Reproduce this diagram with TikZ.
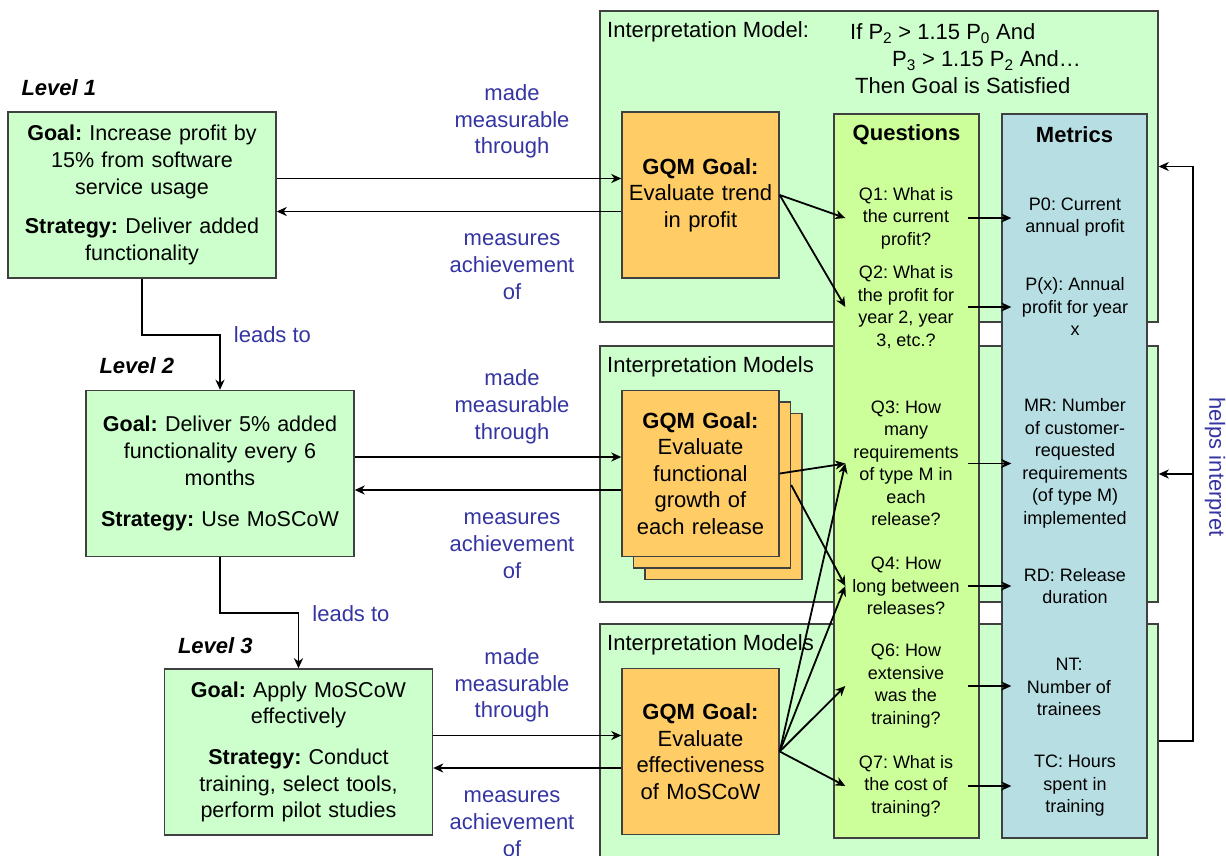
\documentclass[tikz,border=0pt]{standalone}
\usepackage{fontspec}
\setmainfont{Liberation Sans}
\usetikzlibrary{positioning,calc,arrows.meta}
\definecolor{paleg}{HTML}{CCFFCC}
\definecolor{limeg}{HTML}{CCFF99}
\definecolor{gqmor}{HTML}{FFCC66}
\definecolor{metbl}{HTML}{B7DEE3}
\definecolor{relblue}{HTML}{3434A2}

\begin{document}
\frenchspacing
\begin{tikzpicture}[x=1pt,y=-1pt,>={Stealth[length=10pt,width=9pt,inset=3pt]},
  levelbox/.style={draw=black!75, fill=paleg, line width=1.4pt, text width=250pt, inner xsep=9pt, minimum height=166pt, align=center, font=\fontsize{21.5}{26.7}\selectfont},
  gqmbox/.style={draw=black!75, fill=gqmor, line width=1.4pt, text width=145pt, inner xsep=6pt, minimum height=166pt, align=center, font=\fontsize{22}{26.5}\selectfont},
  modelbox/.style={draw=black!75, fill=paleg, line width=1.4pt, minimum width=558pt, inner sep=0pt},
  colbox/.style={draw=black!75, line width=1.4pt, minimum width=145pt, minimum height=724pt, inner sep=0pt},
  qtext/.style={align=center, inner sep=0pt, font=\fontsize{18}{22.5}\selectfont},
  headtxt/.style={inner sep=0pt, font=\fontsize{22}{27}\selectfont},
  lbl/.style={align=center, inner sep=0pt, text=relblue, font=\fontsize{22}{26.7}\selectfont},
  link/.style={->, line width=1.8pt}]
  \useasboundingbox (0,0) rectangle (1226,855);

  %Interpretation models
  \node[modelbox, minimum height=311pt](im1) at (879,166.5){};
  \node[modelbox, minimum height=256pt](im2) at (879,474){};
  \node[modelbox, minimum height=234pt](im3) at (879,741){};
  \node[headtxt, anchor=west](imt1) at (607,32){Interpretation Model:};
  \node[headtxt, anchor=west](imt2) at (607,367){Interpretation Models};
  \node[headtxt, anchor=west](imt3) at (607,645){Interpretation Models};
  \node[headtxt, anchor=west, align=left](rule) at (850,59){If P\textsubscript{2} > 1.15 P\textsubscript{0} And\\\hspace*{42pt}P\textsubscript{3} > 1.15 P\textsubscript{2} And…\\\hspace*{5pt}Then Goal is Satisfied};

  %Questions and metrics
  \node[colbox, fill=limeg](qs) at (906.5,476){};
  \node[colbox, fill=metbl](ms) at (1074.5,476){};
  \node[headtxt](qst) at (906.5,135){\bfseries Questions};
  \node[headtxt](mst) at (1074.5,135){\bfseries Metrics};
  \node[qtext](q1) at (906,218){Q1: What is\\the current\\profit?};
  \node[qtext](q2) at (906,307){Q2: What is\\the profit for\\year 2, year\\3, etc.?};
  \node[qtext](q3) at (906,463.5){Q3: How\\many\\requirements\\of type M in\\each\\release?};
  \node[qtext](q4) at (906,586){Q4: How\\long between\\releases?};
  \node[qtext](q6) at (906,686){Q6: How\\extensive\\was the\\training?};
  \node[qtext](q7) at (906,786){Q7: What is\\the cost of\\training?};
  \node[qtext](m1) at (1075,217){P0: Current\\annual profit};
  \node[qtext](m2) at (1075,306.5){P(x): Annual\\profit for year\\x};
  \node[qtext](m3) at (1075,463.5){MR: Number\\of customer-\\requested\\requirements\\(of type M)\\implemented};
  \node[qtext](m4) at (1075,586){RD: Release\\duration};
  \node[qtext](m5) at (1069,687){NT:\\Number of\\trainees};
  \node[qtext](m6) at (1075,786){TC: Hours\\spent in\\training};

  %Levels
  \node[levelbox](l1) at (142,195){\textbf{Goal:} Increase profit by\\15\% from software\\service usage\\[13pt]\textbf{Strategy:} Deliver added\\functionality};
  \node[levelbox](l2) at (220,473.5){\textbf{Goal:} Deliver 5\% added\\functionality every 6\\months\\[14pt]\textbf{Strategy:} Use MoSCoW};
  \node[levelbox](l3) at (298.5,752){\textbf{Goal:} Apply MoSCoW\\effectively\\[14pt]\textbf{Strategy:} Conduct\\training, select tools,\\perform pilot studies};
  \node[headtxt, anchor=west](lv1) at ($(l1.north west)+(14,-24)$){\bfseries\itshape Level 1};
  \node[headtxt, anchor=west](lv2) at ($(l2.north west)+(14,-24)$){\bfseries\itshape Level 2};
  \node[headtxt, anchor=west](lv3) at ($(l3.north west)+(14,-23)$){\bfseries\itshape Level 3};

  %GQM goals
  \node[gqmbox](g1) at (700.5,195){\textbf{GQM Goal:}\\Evaluate trend\\in profit};
  \node[gqmbox](g2c) at (723.5,496.5){};
  \node[gqmbox](g2b) at (712,485){};
  \node[gqmbox](g2) at (700.5,473.5){\textbf{GQM Goal:}\\Evaluate\\functional\\growth of\\each release};
  \node[gqmbox](g3) at (700.5,751.5){\textbf{GQM Goal:}\\Evaluate\\effectiveness\\of MoSCoW};

  %Lines
  \draw[link](l1.south) -- ++(0,56) -| node[lbl, anchor=west, xshift=13pt](lt1){leads to} (l2.north);
  \draw[link](l2.south) -- ++(0,56) -| node[lbl, anchor=west, xshift=13pt](lt2){leads to} (l3.north);
  \foreach \lv/\gq in {l1/g1,l2/g2,l3/g3}{
    \draw[link]($(\lv.east)+(0,-16.5)$) -- ($(\lv.east -| \gq.west)+(0,-16.5)$);
    \draw[link]($(\gq.west)+(0,16.5)$) -- ($(\gq.west -| \lv.east)+(0,16.5)$);
  }
  \foreach \gq/\qq in {g1/q1,g1/q2,g2/q3,g2b/q4,g3/q3,g3/q4,g3/q6,g3/q7}
    \draw[link](\gq.east) -- ($(\qq -| qs.west)+(12,0)$);
  \foreach \qq/\mm in {q1/m1,q2/m2,q3/m3,q4/m4,q6/m5,q7/m6}
    \draw[link]($(\qq -| qs.east)+(-12,0)$) -- ($(\qq -| ms.west)+(10,0)$);
  \draw[link](im3.east) -| ($(im1.east)+(34,0)$) -- (im1.east);
  \draw[link]($(im2.east)+(34,0)$) -- (im2.east);

  %Labels
  \node[lbl](made1) at (512,121.5){made\\measurable\\through};
  \node[lbl](ach1) at (512,266.5){measures\\achievement\\of};
  \node[lbl](made2) at (512,407){made\\measurable\\through};
  \node[lbl](ach2) at (512,545.5){measures\\achievement\\of};
  \node[lbl](made3) at (512,685.5){made\\measurable\\through};
  \node[lbl](ach3) at (512,823.5){measures\\achievement\\of};
  \node[lbl, rotate=-90](hi) at (1215,467){helps interpret};
\end{tikzpicture}
\end{document}
